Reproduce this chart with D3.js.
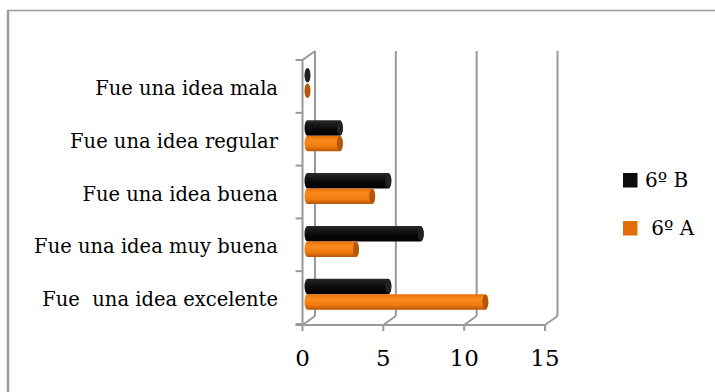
<!DOCTYPE html>
<html><head><meta charset="utf-8">
<script src="https://cdn.jsdelivr.net/npm/d3@7/dist/d3.min.js"></script>
<style>html,body{margin:0;padding:0;background:#fff;}svg{display:block;}</style>
</head><body>
<script>
const categories = ["Fue una idea mala","Fue una idea regular","Fue una idea buena","Fue una idea muy buena","Fue  una idea excelente"];
const seriesNames = ["6º B","6º A"];
const values6B = [0, 2, 5, 7, 5];
const values6A = [0, 2, 4, 3, 11];
const xTicks = [0, 5, 10, 15];

const W = 715, H = 392;
const svg = d3.select("body").append("svg").attr("width", W).attr("height", H);
const FONT = "'DejaVu Serif', serif";

// frame
svg.append("line").attr("x1",8).attr("x2",W).attr("y1",10.5).attr("y2",10.5).attr("stroke","#9a9a9a").attr("stroke-width",1.5);
svg.append("line").attr("x1",8).attr("x2",8).attr("y1",10).attr("y2",H).attr("stroke","#9a9a9a").attr("stroke-width",2.5);

const x = d3.scaleLinear().domain([0,15]).range([302.5, 545]);
const y = d3.scaleBand().domain(categories).range([60, 324]);
const dx = 12.5, dy = -9;
const gridColor = "#999";

const grid = svg.append("g").attr("stroke", gridColor).attr("stroke-width", 2).attr("fill","none");
xTicks.forEach(t => {
  grid.append("line").attr("x1", x(t)+dx).attr("x2", x(t)+dx).attr("y1", 60+dy).attr("y2", 325+dy);
  grid.append("line").attr("x1", x(t)).attr("x2", x(t)+dx).attr("y1", 325).attr("y2", 325+dy);
  grid.append("line").attr("x1", x(t)).attr("x2", x(t)).attr("y1", 325).attr("y2", 331);
});
grid.append("line").attr("x1", x(0)-7).attr("x2", x(15)).attr("y1", 325).attr("y2", 325);
grid.append("line").attr("x1", x(0)).attr("x2", x(0)).attr("y1", 60).attr("y2", 325);
grid.append("line").attr("x1", x(0)).attr("x2", x(0)+dx).attr("y1", 60).attr("y2", 60+dy);
const bounds = categories.map(c => y(c)).concat([y.range()[1]]);
bounds.forEach(b => {
  grid.append("line").attr("x1", x(0)-7).attr("x2", x(0)).attr("y1", b).attr("y2", b);
});

const defs = svg.append("defs");
function grad(id, stops){
  const g = defs.append("linearGradient").attr("id", id).attr("x1",0).attr("x2",0).attr("y1",0).attr("y2",1);
  stops.forEach(s => g.append("stop").attr("offset", s[0]).attr("stop-color", s[1]));
}
grad("gB", [[0,"#2a2a2a"],[0.25,"#1a1a1a"],[0.6,"#080808"],[1,"#000"]]);
grad("gA", [[0,"#e56f08"],[0.3,"#fb8a1c"],[0.7,"#f07a0e"],[1,"#b75607"]]);
const capColor = {"6º B":"#222", "6º A":"#b3560a"};
const gradId = {"6º B":"url(#gB)", "6º A":"url(#gA)"};

const inner = d3.scaleBand().domain(seriesNames).range([7.5, 38.5]);
const bh = inner.bandwidth();
const data = [];
categories.forEach((c,i) => {
  data.push({cat:c, s:"6º B", v:values6B[i]});
  data.push({cat:c, s:"6º A", v:values6A[i]});
});
const bars = svg.append("g");
const off = 5;
const x0 = x(0) + off;
data.forEach(d => {
  const top = y(d.cat) + inner(d.s);
  const xe = x(d.v) + off;
  const rx = 3;
  const g = bars.append("g");
  if (d.v > 0) {
    g.append("path")
      .attr("d", `M${x0},${top} L${xe},${top} A${rx},${bh/2} 0 0 1 ${xe},${top+bh} L${x0},${top+bh} A${rx},${bh/2} 0 0 1 ${x0},${top} Z`)
      .attr("fill", gradId[d.s]);
  }
  g.append("ellipse").attr("cx", xe).attr("cy", top+bh/2).attr("rx", rx).attr("ry", bh/2 - 0.5)
    .attr("fill", capColor[d.s]);
});

svg.append("g").selectAll("text").data(categories).join("text")
  .attr("x", 278).attr("y", c => y(c) + y.bandwidth()/2 + 2)
  .attr("text-anchor","end").attr("dominant-baseline","central")
  .attr("font-family", FONT).attr("font-size", 19.5).attr("fill","#000")
  .style("white-space","pre")
  .text(c => c);

svg.append("g").selectAll("text").data(xTicks).join("text")
  .attr("x", t => x(t)).attr("y", 358)
  .attr("text-anchor","middle").attr("dominant-baseline","central")
  .attr("font-family", FONT).attr("font-size", 23).attr("fill","#000")
  .text(t => t);

const legendY = [180, 228];
const legendText = ["6º B", " 6º A"];
seriesNames.forEach((s,i) => {
  svg.append("rect").attr("x",623).attr("y",legendY[i]-7).attr("width",14.5).attr("height",14.5).attr("fill", i===0 ? "#0d0d0d" : "#e46c0a");
  svg.append("text").attr("x",645).attr("y",legendY[i]).attr("dominant-baseline","central")
    .attr("font-family", FONT).attr("font-size", 20).attr("fill","#000")
    .style("white-space","pre").text(legendText[i]);
});
</script>
</body></html>
